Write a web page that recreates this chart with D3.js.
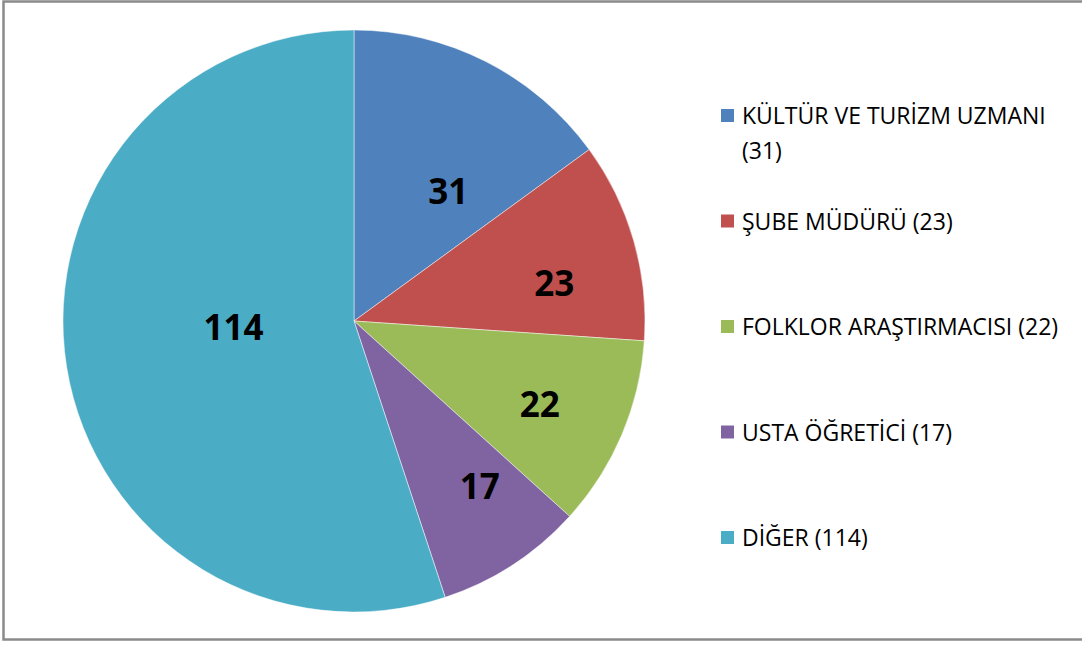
<!DOCTYPE html>
<html lang="tr">
<head>
<meta charset="utf-8">
<title>Pie</title>
<script src="https://cdn.jsdelivr.net/npm/d3@7"></script>
<style>
  body { margin: 0; background: #fff; }
</style>
</head>
<body>
<script>
// data
var categories = ["KÜLTÜR VE TURİZM UZMANI", "ŞUBE MÜDÜRÜ", "FOLKLOR ARAŞTIRMACISI", "USTA ÖĞRETİCİ", "DİĞER"];
var values = [31, 23, 22, 17, 114];
var colors = ["#4F81BD", "#C0504D", "#9BBB59", "#8064A2", "#4BACC6"];

// layout
var width = 1082, height = 645;
var cx = 354, cy = 321, radius = 291;
// value label placement: fraction along the slice angle, fraction of radius
var labelAngle = [0.67, 0.64, 0.53, 0.36, 0.53];
var labelRadius = [0.55, 0.70, 0.70, 0.715, 0.415];
var legendX = 721, legendTop = 124, legendStep = 105.5;

var svg = d3.select("body").append("svg")
  .attr("width", width).attr("height", height);

// chart frame
svg.append("rect")
  .attr("x", 3.5).attr("y", 1.5)
  .attr("width", 1090).attr("height", 638)
  .attr("fill", "none")
  .attr("stroke", "#8a8a8a")
  .attr("stroke-width", 2.5);

var pie = d3.pie().sort(null).value(function (d) { return d; });
var arcs = pie(values);
var arc = d3.arc().innerRadius(0).outerRadius(radius);

var g = svg.append("g").attr("transform", "translate(" + cx + "," + cy + ")");

g.selectAll("path")
  .data(arcs)
  .enter()
  .append("path")
  .attr("d", arc)
  .attr("fill", function (d, i) { return colors[i]; })
  .attr("stroke", "rgba(255,255,255,0.6)")
  .attr("stroke-width", 0.8);

// value labels
g.selectAll("text.val")
  .data(arcs)
  .enter()
  .append("text")
  .attr("class", "val")
  .attr("transform", function (d, i) {
    var a = d.startAngle + (d.endAngle - d.startAngle) * labelAngle[i];
    var r = radius * labelRadius[i];
    return "translate(" + (r * Math.sin(a)) + "," + (-r * Math.cos(a)) + ")";
  })
  .attr("text-anchor", "middle")
  .attr("dy", "0.357em")
  .style("font-family", "'Open Sans', 'Liberation Sans', sans-serif")
  .style("font-weight", "bold")
  .style("font-size", "35px")
  .style("fill", "#000")
  .text(function (d) { return d.value; });

// legend
var legend = svg.selectAll("g.leg")
  .data(categories)
  .enter()
  .append("g")
  .attr("class", "leg")
  .attr("transform", function (d, i) {
    return "translate(" + legendX + "," + (legendTop + i * legendStep) + ")";
  });

legend.append("rect")
  .attr("x", 0).attr("y", -15)
  .attr("width", 13).attr("height", 13)
  .attr("fill", function (d, i) { return colors[i]; });

legend.each(function (d, i) {
  var t = d3.select(this).append("text")
    .attr("x", 21).attr("y", 0)
    .style("font-family", "'Open Sans', 'Liberation Sans', sans-serif")
    .style("font-size", "23px")
    .style("fill", "#000");
  if (i === 0) {
    t.append("tspan").attr("x", 21).attr("y", 0).text(d);
    t.append("tspan").attr("x", 21).attr("y", 35).text("(" + values[i] + ")");
  } else {
    t.text(d + " (" + values[i] + ")");
  }
});
</script>
</body>
</html>
